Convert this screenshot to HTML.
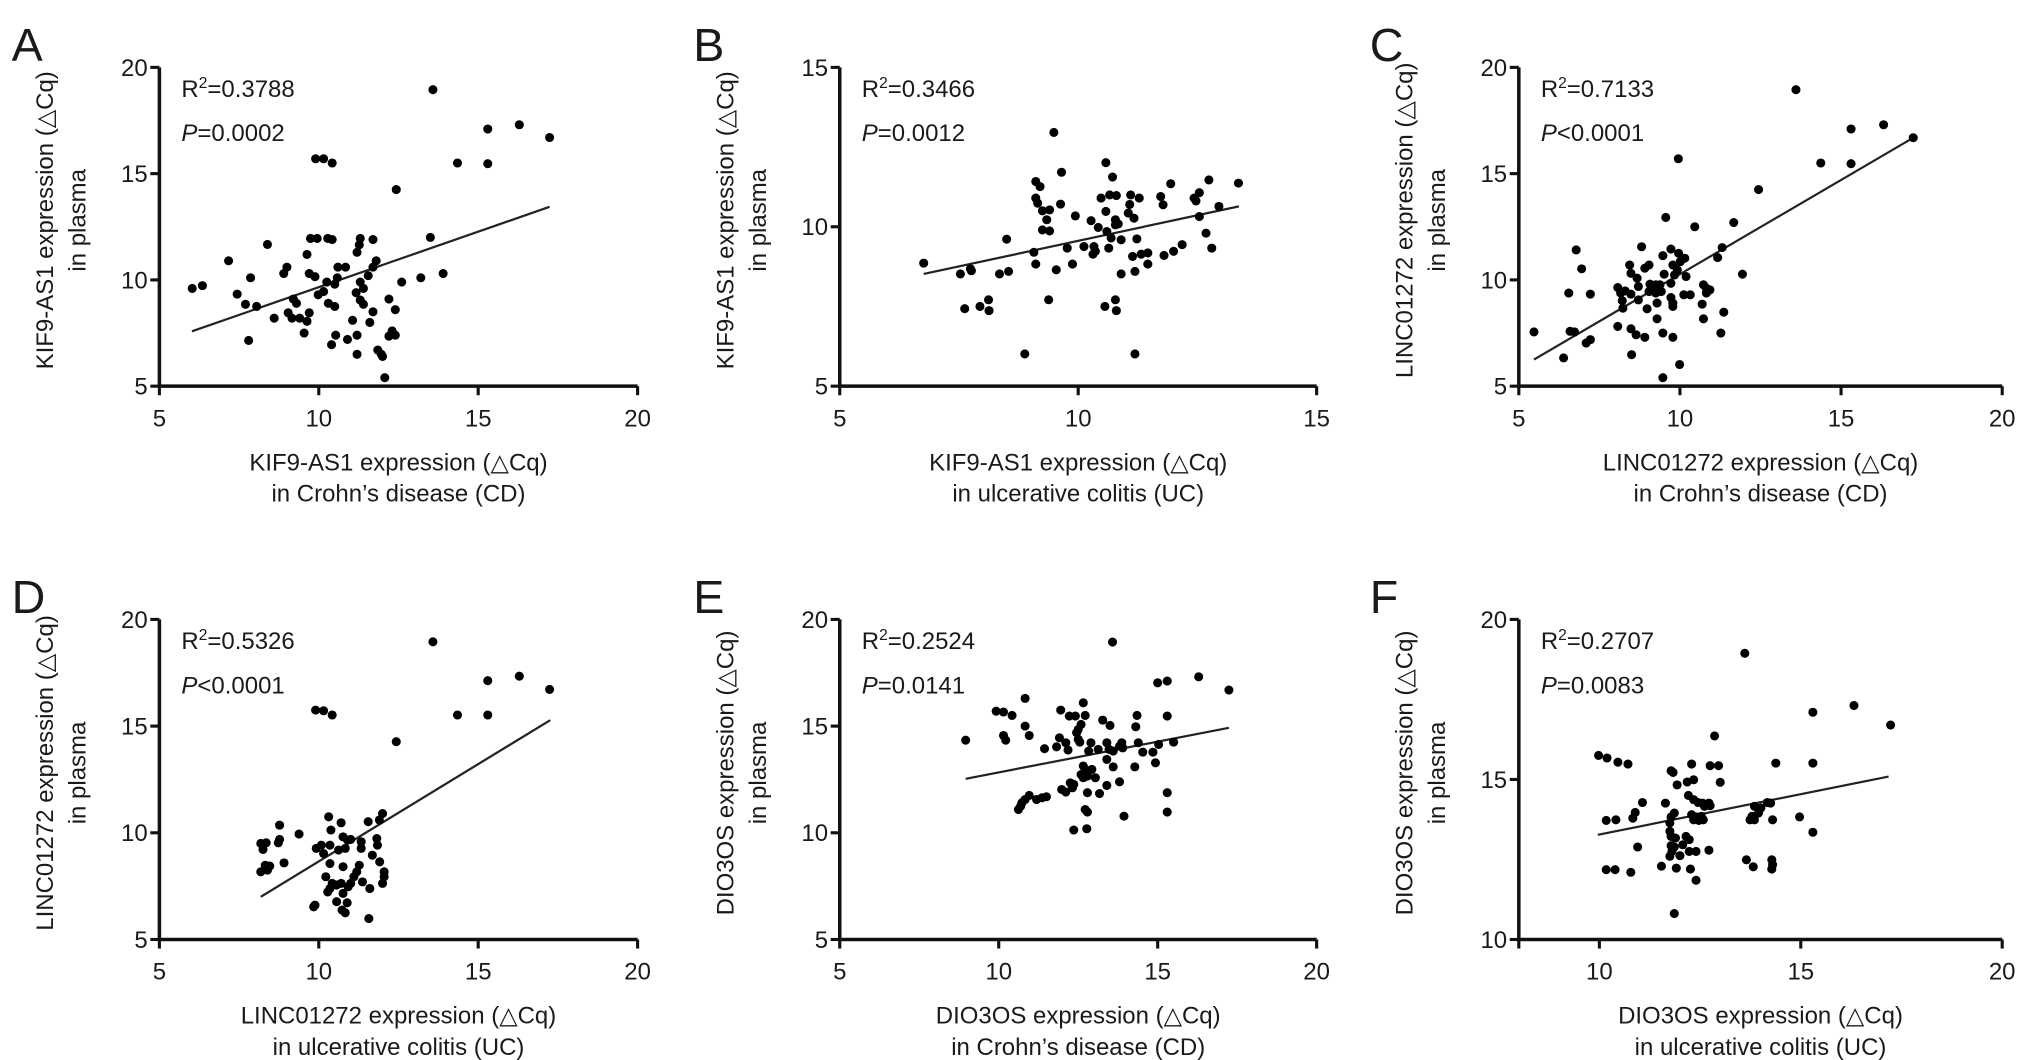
<!DOCTYPE html>
<html><head><meta charset="utf-8"><style>
html,body{margin:0;padding:0;background:#fff;width:2032px;height:1060px;overflow:hidden}
svg{display:block}
text{font-family:"Liberation Sans","DejaVu Sans",sans-serif;fill:#1a1a1a}
</style></head><body>
<svg id="fig" width="2032" height="1060" viewBox="0 0 1568 818" preserveAspectRatio="none" xmlns="http://www.w3.org/2000/svg"></svg>
<script>
// ---- data ----
const aX=[13.58,15.3,16.29,17.24,14.35,15.3,9.9,10.15,10.42,12.43,13.5,13.9,13.2,12.6,12.2,12.4,12.3,12.4,12.2,12.07,11.85,11.96,12.0,11.8,11.7,11.7,11.3,11.27,11.2,11.55,11.3,11.4,11.17,11.3,11.4,11.7,11.6,11.06,11.2,10.9,11.2,10.6,10.84,10.58,10.5,10.5,10.53,10.4,10.28,10.42,9.74,9.95,9.63,9.7,9.88,10.25,10.15,9.98,10.3,9.7,9.63,9.54,9.0,8.9,9.2,9.3,9.04,9.16,9.4,8.6,8.39,7.86,7.44,7.7,8.05,7.8,7.17,6.35,6.03];
const aY=[18.95,17.1,17.3,16.7,15.5,15.47,15.7,15.7,15.5,14.25,12.0,10.3,10.1,9.9,9.1,8.6,7.6,7.4,7.35,5.4,6.7,6.5,6.4,10.9,10.6,11.9,11.95,11.65,11.3,10.2,9.9,9.6,9.4,9.05,8.85,8.5,8.0,8.1,7.4,7.2,6.5,10.6,10.6,10.1,9.8,8.75,7.4,6.95,11.95,11.9,11.95,11.95,11.2,10.3,10.15,9.9,9.45,9.3,8.9,8.45,8.05,7.5,10.6,10.3,9.1,8.9,8.45,8.2,8.2,8.2,11.67,10.1,9.33,8.85,8.75,7.15,10.9,9.73,9.6];
const aLine=[6.02,7.58,17.24,13.44];

const bX=[9.49,10.58,9.65,10.72,9.11,9.2,11.94,12.74,13.36,12.54,12.43,12.47,11.73,11.78,11.28,11.1,11.08,10.48,10.66,10.8,12.95,9.11,9.15,9.25,9.4,9.34,9.25,9.4,9.63,9.94,10.27,10.58,10.78,10.84,10.78,11.05,11.17,12.54,10.42,10.6,10.69,10.9,11.23,12.68,12.8,12.18,12.0,11.8,11.46,11.32,11.14,11.19,11.46,10.9,10.33,10.36,10.31,10.12,10.64,9.77,9.07,9.11,9.88,9.54,8.5,8.54,8.35,7.74,7.76,7.53,6.76,7.94,8.12,8.13,7.62,9.38,10.56,10.78,10.8,8.88,11.19];
const bY=[12.96,12.01,11.71,11.56,11.42,11.26,11.35,11.47,11.37,11.07,10.9,10.81,10.95,10.69,10.9,11.0,10.7,10.9,11.0,10.98,10.64,10.9,10.74,10.5,10.53,10.22,9.9,9.87,10.71,10.34,10.19,10.48,10.22,10.09,10.06,10.43,10.27,10.32,9.98,9.85,9.65,9.59,9.62,9.8,9.33,9.44,9.23,9.1,9.18,9.14,9.07,8.6,8.83,8.52,9.38,9.23,9.14,9.38,9.33,9.33,9.2,8.83,8.83,8.65,9.61,8.6,8.52,8.68,8.62,8.52,8.86,7.5,7.71,7.37,7.43,7.71,7.5,7.71,7.37,6.01,6.01];
const bLine=[6.76,8.52,13.37,10.64];

const cX=[13.6,15.31,16.32,17.24,14.37,15.31,9.95,12.44,11.67,10.46,9.56,11.94,11.31,11.17,8.81,9.72,9.47,9.96,10.01,9.78,9.92,10.15,10.19,9.83,9.04,8.91,8.44,8.48,8.67,9.51,9.25,9.34,9.18,9.04,9.42,9.25,9.38,9.07,8.71,9.72,10.12,10.32,10.73,10.82,10.93,10.82,8.07,8.16,8.3,8.48,8.71,8.21,8.23,8.98,9.29,9.72,9.78,9.78,10.69,11.36,11.27,10.73,9.29,8.07,8.48,8.64,8.91,9.47,9.78,6.55,7.22,6.78,6.95,6.59,6.73,7.09,7.22,5.47,6.39,8.5,9.99,9.47];
const cY=[18.95,17.1,17.3,16.69,15.5,15.47,15.7,14.25,12.7,12.5,12.94,10.27,11.52,11.05,11.56,11.45,11.14,11.25,10.86,10.7,10.47,11.02,10.16,10.23,10.7,10.55,10.7,10.31,10.08,10.27,9.77,9.61,9.58,9.45,9.45,9.38,9.77,9.8,9.69,9.84,9.3,9.3,9.77,9.61,9.53,9.38,9.64,9.38,9.48,9.33,9.06,9.02,8.67,8.64,8.91,9.17,8.91,8.75,8.86,8.48,7.5,8.17,8.17,7.81,7.7,7.42,7.3,7.5,7.3,9.38,9.33,11.41,10.52,7.58,7.55,7.03,7.19,7.55,6.33,6.48,6.02,5.4];
const cLine=[5.47,6.25,17.24,16.69];

const dX=[13.58,15.3,16.29,17.24,14.35,15.3,9.9,10.15,10.42,12.43,12.0,11.9,11.55,10.31,10.7,10.38,9.38,8.77,8.35,8.25,8.77,8.73,8.18,8.91,8.32,8.46,8.18,8.39,9.92,10.08,10.35,10.15,10.35,10.22,10.76,10.9,11.0,10.83,10.62,11.33,11.33,11.82,11.84,11.68,11.91,12.05,12.05,12.0,10.76,11.27,11.19,11.1,11.0,10.92,11.37,11.6,10.42,10.56,10.35,10.28,10.7,10.76,9.88,9.84,10.56,10.89,10.73,10.83,11.57];
const dY=[18.95,17.13,17.34,16.72,15.52,15.52,15.75,15.72,15.52,14.27,10.9,10.6,10.52,10.75,10.47,10.13,9.94,10.36,9.53,9.22,9.69,9.53,9.5,8.59,8.48,8.44,8.17,8.25,9.27,9.42,9.42,9.03,8.56,7.94,9.81,9.66,9.69,9.27,9.19,9.58,9.27,9.73,9.42,8.95,8.64,8.17,7.94,7.63,8.41,8.48,8.17,7.94,7.63,7.47,7.7,7.39,7.63,7.55,7.39,7.23,7.63,7.16,6.61,6.53,6.77,6.72,6.38,6.25,5.98];
const dLine=[8.18,7.0,17.26,15.28];

const eX=[13.58,15.0,15.3,16.29,17.24,10.83,12.66,9.92,10.15,10.42,11.95,12.22,12.41,12.72,12.59,12.5,14.35,15.3,13.27,13.5,14.31,10.83,10.96,10.15,10.22,8.96,11.91,12.11,11.82,12.18,11.44,12.45,12.5,12.55,12.9,12.83,13.13,13.4,13.47,13.6,13.8,13.87,13.9,14.39,14.53,14.85,15.03,15.5,13.4,13.6,14.28,14.93,12.66,12.72,12.93,13.04,12.59,12.79,12.66,12.25,12.36,11.98,12.32,12.11,13.4,13.17,13.8,12.79,15.3,10.96,10.83,10.69,10.62,10.73,11.19,11.36,11.5,12.72,12.79,13.94,15.3,12.36,12.77];
const eY=[18.94,17.03,17.11,17.31,16.69,16.3,16.09,15.7,15.66,15.5,15.75,15.47,15.47,15.5,15.08,14.84,15.5,15.47,15.28,15.03,14.97,15.0,14.56,14.56,14.34,14.34,14.45,14.22,14.03,13.88,13.94,14.69,14.38,14.25,14.22,13.83,13.91,14.22,13.91,13.83,14.06,14.22,13.98,14.22,13.78,13.78,14.14,14.25,13.44,13.09,13.09,13.28,13.13,12.97,12.97,12.58,12.73,12.66,12.58,12.34,12.27,12.03,12.11,11.91,12.22,11.84,12.39,11.88,11.88,11.75,11.56,11.25,11.09,11.41,11.56,11.64,11.69,11.09,10.97,10.78,10.97,10.13,10.19];
const eLine=[8.96,12.53,17.24,14.92];

const fX=[13.61,16.32,15.3,17.23,12.86,9.98,10.19,10.46,10.71,14.38,15.3,12.29,12.75,12.96,11.78,11.83,13.0,12.34,12.18,11.93,12.21,12.34,12.45,12.56,12.72,12.75,12.61,11.07,11.64,10.89,10.83,10.41,10.17,11.86,11.78,11.75,11.75,12.29,12.4,12.34,12.45,12.53,12.58,12.47,13.85,14.01,14.17,14.25,13.95,13.79,13.74,13.85,14.3,14.97,15.3,10.95,11.78,11.89,12.15,12.23,12.07,11.86,11.78,11.8,11.75,12.0,12.23,12.4,12.72,13.65,13.82,14.28,14.3,14.28,10.17,10.39,10.78,11.54,11.91,12.26,12.4,11.86];
const fY=[18.94,17.31,17.1,16.7,16.36,15.75,15.67,15.54,15.48,15.51,15.51,15.48,15.43,15.43,15.27,15.22,14.91,14.99,14.92,14.83,14.5,14.37,14.28,14.26,14.26,14.18,14.16,14.28,14.26,13.97,13.79,13.74,13.72,13.95,13.83,13.64,13.38,13.9,13.83,13.74,13.76,13.85,13.74,13.72,14.16,14.11,14.28,14.26,13.95,13.85,13.74,13.74,13.74,13.83,13.35,12.89,13.22,13.17,13.22,13.12,12.96,12.89,12.93,12.75,12.6,12.62,12.75,12.75,12.79,12.49,12.27,12.49,12.34,12.2,12.18,12.18,12.1,12.29,12.23,12.2,11.85,10.81];
const fLine=[9.96,13.27,17.18,15.09];

// tick labels
const xTicksA=[5,10,15,20], yTicksA=[5,10,15,20];
const xTicksB=[5,10,15],    yTicksB=[5,10,15];
const xTicksF=[10,15,20],   yTicksF=[10,15,20];

// ---- layout ----
const NS='http://www.w3.org/2000/svg';
const svg=document.getElementById('fig');
function mk(tag,attrs,parent){const e=document.createElementNS(NS,tag);for(const k in attrs)e.setAttribute(k,attrs[k]);(parent||svg).appendChild(e);return e;}

const panels=[
 {id:'a',letter:'A',lx:9,ox:123,x1:492,oy:298,y1:52,xmin:5,xmax:20,ymin:5,ymax:20,xt:xTicksA,yt:yTicksA,X:aX,Y:aY,L:aLine,r2:'0.3788',p:'=0.0002',yl:['KIF9-AS1 expression (\u25B3Cq)','in plasma'],xl:['KIF9-AS1 expression (\u25B3Cq)','in Crohn\u2019s disease (CD)']},
 {id:'b',letter:'B',lx:535,ox:648,x1:1016,oy:298,y1:52,xmin:5,xmax:15,ymin:5,ymax:15,xt:xTicksB,yt:yTicksB,X:bX,Y:bY,L:bLine,r2:'0.3466',p:'=0.0012',yl:['KIF9-AS1 expression (\u25B3Cq)','in plasma'],xl:['KIF9-AS1 expression (\u25B3Cq)','in ulcerative colitis (UC)']},
 {id:'c',letter:'C',lx:1057,ox:1172,x1:1545,oy:298,y1:52,xmin:5,xmax:20,ymin:5,ymax:20,xt:xTicksA,yt:yTicksA,X:cX,Y:cY,L:cLine,r2:'0.7133',p:'<0.0001',yl:['LINC01272 expression (\u25B3Cq)','in plasma'],xl:['LINC01272 expression (\u25B3Cq)','in Crohn\u2019s disease (CD)']},
 {id:'d',letter:'D',lx:9,ox:123,x1:492,oy:725,y1:478,xmin:5,xmax:20,ymin:5,ymax:20,xt:xTicksA,yt:yTicksA,X:dX,Y:dY,L:dLine,r2:'0.5326',p:'<0.0001',yl:['LINC01272 expression (\u25B3Cq)','in plasma'],xl:['LINC01272 expression (\u25B3Cq)','in ulcerative colitis (UC)']},
 {id:'e',letter:'E',lx:535,ox:648,x1:1016,oy:725,y1:478,xmin:5,xmax:20,ymin:5,ymax:20,xt:xTicksA,yt:yTicksA,X:eX,Y:eY,L:eLine,r2:'0.2524',p:'=0.0141',yl:['DIO3OS expression (\u25B3Cq)','in plasma'],xl:['DIO3OS expression (\u25B3Cq)','in Crohn\u2019s disease (CD)']},
 {id:'f',letter:'F',lx:1057,ox:1172,x1:1545,oy:725,y1:478,xmin:8,xmax:20,ymin:10,ymax:20,xt:xTicksF,yt:yTicksF,X:fX,Y:fY,L:fLine,r2:'0.2707',p:'=0.0083',yl:['DIO3OS expression (\u25B3Cq)','in plasma'],xl:['DIO3OS expression (\u25B3Cq)','in ulcerative colitis (UC)']}
];

panels.forEach(P=>{
  const g=mk('g',{});
  
  
  const sx=v=>P.ox+(v-P.xmin)/(P.xmax-P.xmin)*(P.x1-P.ox);
  const sy=v=>P.oy-(v-P.ymin)/(P.ymax-P.ymin)*(P.oy-P.y1);
  const lt=mk('text',{x:P.lx,y:P.y1-5,'font-size':36},g); lt.textContent=P.letter;
  
  
  const ax=mk('path',{d:`M${P.ox},${P.y1} V${P.oy} H${P.x1}`,stroke:'#111','stroke-width':2.7,fill:'none'},g);
  
  
  P.xt.forEach(t=>{
    const x=sx(t);
    mk('line',{x1:x,y1:P.oy,x2:x,y2:P.oy+7,stroke:'#111','stroke-width':2.4},g);
    const tx=mk('text',{x:x,y:P.oy+31,'font-size':18.5,'text-anchor':'middle'},g); tx.textContent=t;
    
    
  });
  if(P.xmin!==P.xt[0]) mk('line',{x1:P.ox,y1:P.oy,x2:P.ox,y2:P.oy+7,stroke:'#111','stroke-width':2.4},g);
  P.yt.forEach(t=>{
    const y=sy(t);
    mk('line',{x1:P.ox-7,y1:y,x2:P.ox,y2:y,stroke:'#111','stroke-width':2.4},g);
    const ty=mk('text',{x:P.ox-9,y:y+6.5,'font-size':18.5,'text-anchor':'end'},g); ty.textContent=t;
    
    
  });
  const r=mk('text',{x:P.ox+17,y:P.y1+23,'font-size':18.5},g);
  
  
  r.innerHTML='R<tspan dy="-7" font-size="12">2</tspan><tspan dy="7">='+P.r2+'</tspan>';
  const pv=mk('text',{x:P.ox+17,y:P.y1+57,'font-size':18.5},g);
  
  
  pv.innerHTML='<tspan font-style="italic">P</tspan>'+(P.p[0]==='<'?'&lt;'+P.p.slice(1):P.p);
  const cx=(P.ox+P.x1)/2;
  P.xl.forEach((s,i)=>{
    const t=mk('text',{x:cx,y:P.oy+65+i*24,'font-size':18.5,'text-anchor':'middle'},g); t.textContent=s;
    
    
  });
  const cy=(P.oy+P.y1)/2-5;
  P.yl.forEach((s,i)=>{
    const px=P.ox-82+i*25;
    const t=mk('text',{x:px,y:cy,'font-size':18.5,'text-anchor':'middle',transform:`rotate(-90 ${px} ${cy})`},g); t.textContent=s;
    
    
  });
  const rl=mk('line',{x1:sx(P.L[0]),y1:sy(P.L[1]),x2:sx(P.L[2]),y2:sy(P.L[3]),stroke:'#222','stroke-width':1.7},g);
  
  
  P.X.forEach((v,i)=>{
    const c=mk('circle',{cx:sx(v),cy:sy(P.Y[i]),r:3.5,fill:'#000'},g);
    
    
  });
});
</script>
</body></html>
